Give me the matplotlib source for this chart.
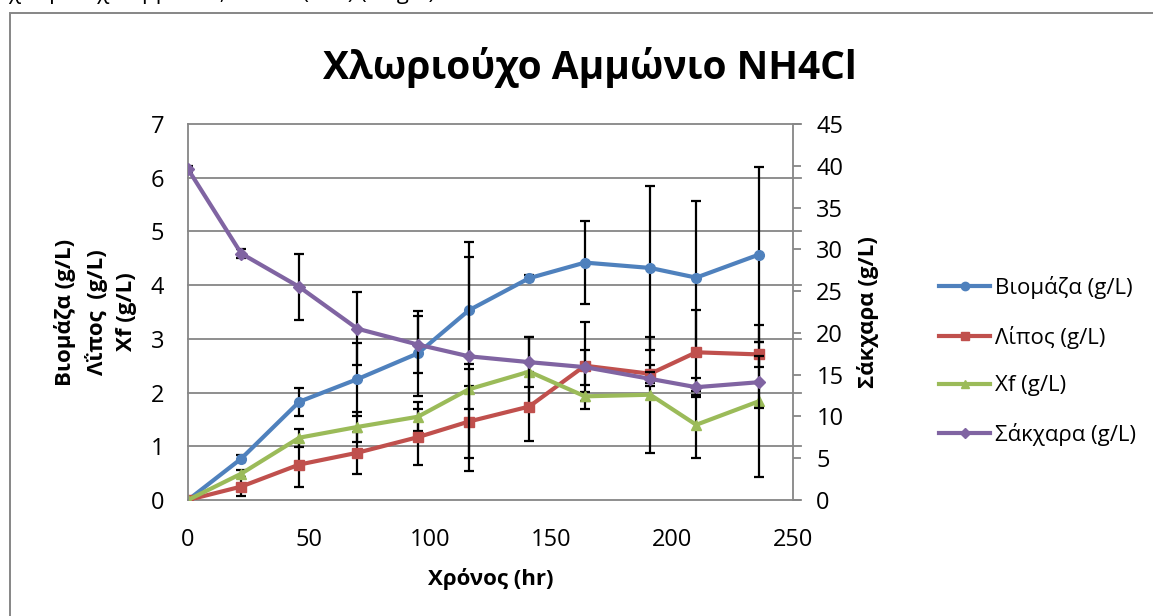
import numpy as np
import matplotlib.pyplot as plt
from matplotlib.patches import Rectangle
from matplotlib.lines import Line2D

plt.rcParams['font.family'] = ['Open Sans', 'DejaVu Sans']

# Sampling times (hr)
time_hr = [0, 22, 46, 70, 95, 116, 141, 164, 191, 210, 236]

# Left axis series (g/L) with standard deviations
biomass = [0, 0.77, 1.83, 2.25, 2.73, 3.53, 4.13, 4.42, 4.32, 4.14, 4.57]
biomass_err = [0, 0.06, 0.26, 0.68, 0.79, 1.00, 0.05, 0.78, 1.52, 1.42, 1.63]
lipid = [0, 0.25, 0.66, 0.88, 1.17, 1.46, 1.74, 2.50, 2.35, 2.75, 2.71]
lipid_err = [0, 0.18, 0.42, 0.39, 0.52, 0.67, 0.65, 0.81, 0.17, 0.79, 0.23]
xf = [0, 0.49, 1.16, 1.36, 1.55, 2.06, 2.39, 1.93, 1.96, 1.40, 1.84]
xf_err = [0, 0.07, 0.17, 0.28, 0.27, 0.37, 0.65, 0.08, 1.08, 0.62, 1.42]

# Right axis: sugars (g/L)
sugar = [39.6, 29.5, 25.5, 20.5, 18.6, 17.2, 16.5, 15.9, 14.5, 13.5, 14.1]
sugar_err = [0.35, 0.56, 3.95, 4.4, 3.4, 13.7, 3.0, 2.1, 0.8, 1.16, 3.1]

left_ticks = [0, 1, 2, 3, 4, 5, 6, 7]
right_ticks = [0, 5, 10, 15, 20, 25, 30, 35, 40, 45]
x_ticks = [0, 50, 100, 150, 200, 250]

BLUE, RED, GREEN, PURPLE = '#4F81BD', '#C0504D', '#9BBB59', '#8064A2'
GRID = '#868686'

fig = plt.figure(figsize=(11.53, 6.16), dpi=100)
W, H = 1153, 616
ax = fig.add_axes([188 / W, 1 - 500 / H, (793 - 188) / W, (500 - 124) / H])
ax2 = ax.twinx()

# chart area border
fig.add_artist(Rectangle((10 / W, -0.2), 1.2, 0.2 + (616 - 13) / H, transform=fig.transFigure,
                         fill=False, edgecolor=GRID, lw=1.4))

# horizontal gridlines reach slightly past the secondary axis
for y in left_ticks:
    ax.plot([0, 253.5], [y, y], color=GRID, lw=1.3, clip_on=False, zorder=0)

lw = 3.0
ekw = dict(ecolor='black', elinewidth=1.6, capsize=3.5, capthick=1.6)
ax.errorbar(time_hr, biomass, yerr=biomass_err, color=BLUE, lw=lw, marker='o', ms=7, **ekw)
ax.errorbar(time_hr, lipid, yerr=lipid_err, color=RED, lw=lw, marker='s', ms=7, **ekw)
ax.errorbar(time_hr, xf, yerr=xf_err, color=GREEN, lw=lw, marker='^', ms=7, **ekw)
ax2.errorbar(time_hr, sugar, yerr=sugar_err, color=PURPLE, lw=lw, marker='D', ms=6, **ekw)

ax.set_xlim(0, 250)
ax.set_ylim(0, 7)
ax2.set_ylim(0, 45)
ax.set_xticks(x_ticks)
ax.set_yticks(left_ticks)
ax2.set_yticks(right_ticks)

for a in (ax, ax2):
    for s in a.spines.values():
        s.set_visible(False)
ax.spines['left'].set_visible(True)
ax.spines['left'].set_color(GRID)
ax.spines['left'].set_linewidth(1.3)
ax2.spines['right'].set_visible(True)
ax2.spines['right'].set_color(GRID)
ax2.spines['right'].set_linewidth(1.3)

ax.tick_params(axis='both', length=0, labelsize=17)
ax.tick_params(axis='y', pad=17)
ax.tick_params(axis='x', pad=20)
ax2.tick_params(axis='y', length=5.8, width=1.3, color=GRID, labelsize=17, pad=11)

ax.set_ylabel('Βιομάζα (g/L)\nΛΐπος  (g/L)\nXf (g/L)', fontsize=16, fontweight='bold',
              linespacing=1.5, labelpad=10)
ax2.set_ylabel('Σάκχαρα (g/L)', fontsize=16, fontweight='bold', labelpad=10)
ax.set_xlabel('Χρόνος (hr)', fontsize=16, fontweight='bold', labelpad=12)

fig.text(590 / W, 1 - 68 / H, 'Χλωριούχο Αμμώνιο NH4Cl', ha='center', va='center',
         fontsize=28, fontweight='bold')

# header line of the page, cut by the top edge
fig.text(8 / W, 1 + 1 / H, 'χλωριούχο αμμώνιο, NH4Cl (C/N) (σε g/L)', ha='left',
         va='baseline', fontsize=16)

handles = [
    Line2D([], [], color=BLUE, lw=lw, marker='o', ms=6),
    Line2D([], [], color=RED, lw=lw, marker='s', ms=6),
    Line2D([], [], color=GREEN, lw=lw, marker='^', ms=6),
    Line2D([], [], color=PURPLE, lw=lw, marker='D', ms=5),
]
labels = ['Βιομάζα (g/L)', 'Λίπος (g/L)', 'Xf (g/L)', 'Σάκχαρα (g/L)']
fig.legend(handles, labels, loc='upper left', bbox_to_anchor=(928 / W, 1 - 265 / H),
           frameon=False, fontsize=16, handlelength=2.3, handletextpad=0.2,
           labelspacing=1.2, borderpad=0)

fig.savefig('out.png', dpi=100)
